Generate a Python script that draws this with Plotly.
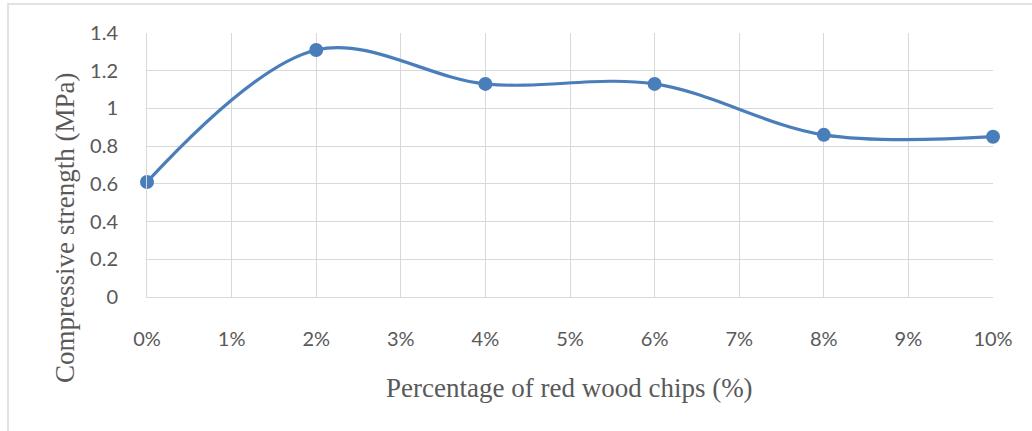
import plotly.graph_objects as go

pct = [0, 2, 4, 6, 8, 10]
strength = [0.61, 1.31, 1.13, 1.13, 0.86, 0.85]
x_ticks = list(range(0, 11))
x_tick_labels = [f"{v}%" for v in x_ticks]
y_ticks = [0, 0.2, 0.4, 0.6, 0.8, 1, 1.2, 1.4]
y_tick_labels = ["0", "0.2", "0.4", "0.6", "0.8", "1", "1.2", "1.4"]
x_title = "Percentage of red wood chips (%)"
y_title = "Compressive strength (MPa)"

W, H = 1032, 431
L, R, T, B = 147, 39, 33, 134
pw, ph = W - L - R, H - T - B

fig = go.Figure()
fig.add_trace(go.Scatter(
    x=pct, y=strength, mode="lines+markers",
    line=dict(color="#4a7ebb", width=3.2, shape="spline", smoothing=1),
    marker=dict(color="#4a7ebb", size=14),
    showlegend=False, cliponaxis=False,
))

grid = "#d9d9d9"
tickfont = dict(family="Lato, Open Sans, sans-serif", size=20, color="#595959")
titlefont = dict(family="Liberation Serif, Times New Roman, serif", size=27, color="#595959")

fig.update_xaxes(
    range=[0, 10], tickvals=x_ticks, ticktext=x_tick_labels,
    showgrid=True, gridcolor=grid, gridwidth=1,
    showline=True, linecolor=grid, linewidth=1,
    zeroline=False, ticks="", tickfont=tickfont, ticklabelstandoff=24,
)
fig.update_yaxes(
    range=[0, 1.4], tickvals=y_ticks, ticktext=y_tick_labels,
    showgrid=True, gridcolor=grid, gridwidth=1,
    showline=True, linecolor=grid, linewidth=1,
    zeroline=False, ticks="", tickfont=tickfont, ticklabelstandoff=24,
)

# axis titles as annotations (placed like the original)
fig.add_annotation(
    text=x_title, xref="paper", yref="paper",
    x=(569 - L) / pw, y=(T + ph - 388) / ph,
    xanchor="center", yanchor="middle", showarrow=False, font=titlefont,
)
fig.add_annotation(
    text=y_title, xref="paper", yref="paper",
    x=(65 - L) / pw, y=(T + ph - 228) / ph, textangle=-90,
    xanchor="center", yanchor="middle", showarrow=False, font=titlefont,
)

fig.add_shape(
    type="rect", xref="paper", yref="paper",
    x0=(8 - L) / pw, x1=(W + 10 - L) / pw,
    y0=(T + ph - (H + 10)) / ph, y1=(T + ph - 4) / ph,
    line=dict(color="#d9d9d9", width=1.5), fillcolor="rgba(0,0,0,0)", layer="below",
)

fig.update_layout(
    width=W, height=H,
    margin=dict(l=L, r=R, t=T, b=B),
    paper_bgcolor="white", plot_bgcolor="white",
)

fig.write_html("out.html")
